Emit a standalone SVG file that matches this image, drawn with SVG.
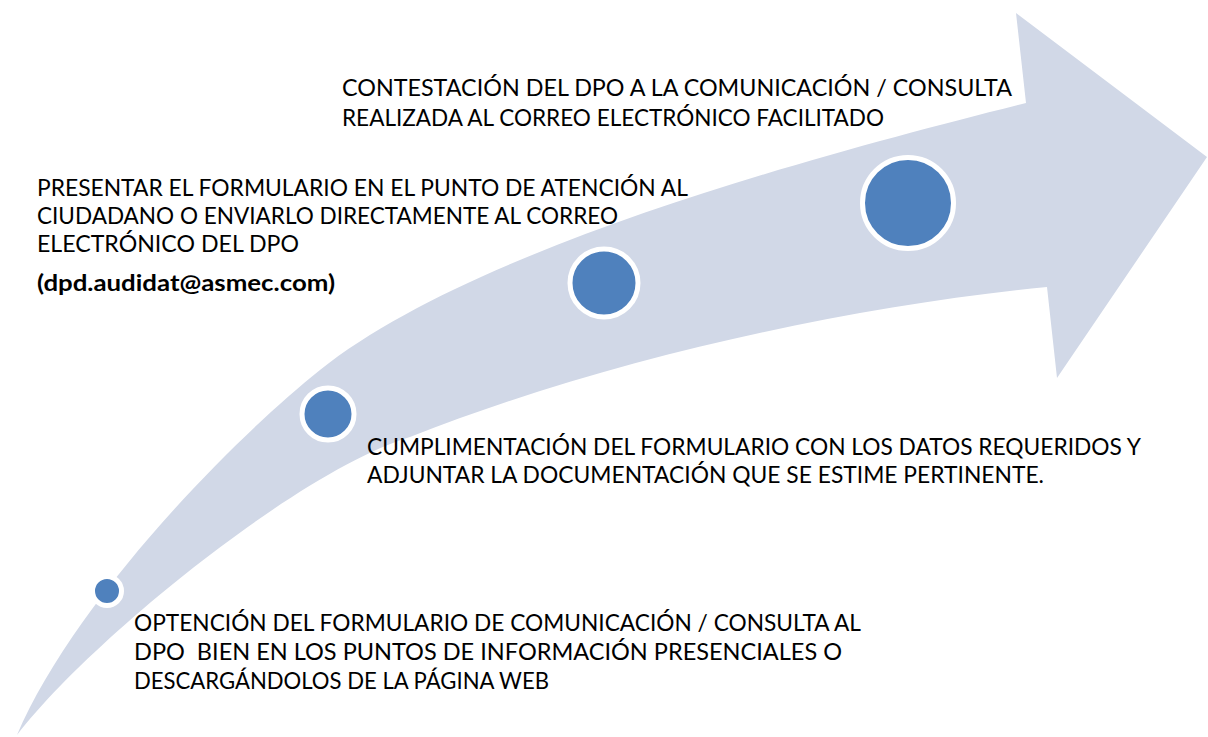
<svg xmlns="http://www.w3.org/2000/svg" width="1208" height="737" viewBox="0 0 1208 737">
<style>
.band{fill:#D1D8E7;stroke:none}
.dot{fill:#4F81BD;stroke:#FFFFFF;stroke-width:5}
.t{font-family:Lato,"Open Sans","Liberation Sans",sans-serif;font-size:23px;fill:#000000}
.b{font-weight:bold}
</style>
<rect width="1208" height="737" fill="#FFFFFF"/>
<g id="connectors">
<path class="band" d="M17,735 C70,610 220,450 320,370 C470,250 806,158 1026,103 L1016,13 L1207,157 L1057,378 L1047,287 C847,307 610,358 410,437 C300,470 90,640 17,735 Z"/>
</g>
<g id="step1">
<circle class="dot" cx="107" cy="591" r="14.5"/>
<text class="t" x="134" y="631" textLength="727" lengthAdjust="spacingAndGlyphs">OPTENCIÓN DEL FORMULARIO DE COMUNICACIÓN / CONSULTA AL</text>
<text class="t" x="134" y="660" textLength="708" lengthAdjust="spacingAndGlyphs" xml:space="preserve">DPO  BIEN EN LOS PUNTOS DE INFORMACIÓN PRESENCIALES O</text>
<text class="t" x="134" y="689" textLength="415" lengthAdjust="spacingAndGlyphs">DESCARGÁNDOLOS DE LA PÁGINA WEB</text>
</g>
<g id="step2">
<circle class="dot" cx="328" cy="414" r="26"/>
<text class="t" x="367" y="455" textLength="774" lengthAdjust="spacingAndGlyphs">CUMPLIMENTACIÓN DEL FORMULARIO CON LOS DATOS REQUERIDOS Y</text>
<text class="t" x="367" y="483" textLength="677" lengthAdjust="spacingAndGlyphs">ADJUNTAR LA DOCUMENTACIÓN QUE SE ESTIME PERTINENTE.</text>
</g>
<g id="step3">
<circle class="dot" cx="604" cy="283" r="34"/>
<text class="t" x="37" y="196" textLength="651" lengthAdjust="spacingAndGlyphs">PRESENTAR EL FORMULARIO EN EL PUNTO DE ATENCIÓN AL</text>
<text class="t" x="37" y="224" textLength="581" lengthAdjust="spacingAndGlyphs">CIUDADANO O ENVIARLO DIRECTAMENTE AL CORREO</text>
<text class="t" x="37" y="252" textLength="262" lengthAdjust="spacingAndGlyphs">ELECTRÓNICO DEL DPO</text>
<text class="t b" x="37" y="291" textLength="298" lengthAdjust="spacingAndGlyphs">(dpd.audidat@asmec.com)</text>
</g>
<g id="step4">
<circle class="dot" cx="908" cy="203" r="45.5"/>
<text class="t" x="342" y="96" textLength="670" lengthAdjust="spacingAndGlyphs">CONTESTACIÓN DEL DPO A LA COMUNICACIÓN / CONSULTA</text>
<text class="t" x="342" y="126" textLength="542" lengthAdjust="spacingAndGlyphs">REALIZADA AL CORREO ELECTRÓNICO FACILITADO</text>
</g>
</svg>
